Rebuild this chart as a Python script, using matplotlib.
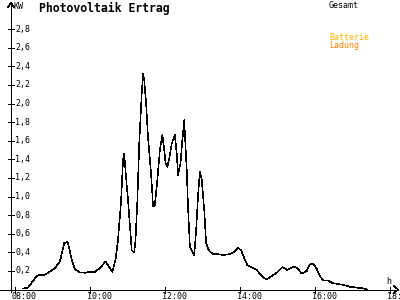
import matplotlib
matplotlib.use("Agg")
import matplotlib.pyplot as plt
from matplotlib.transforms import blended_transform_factory, offset_copy

# ---- data ----
times = ["08:11", "08:20", "08:34", "08:39", "08:44", "08:52", "09:03", "09:11", "09:18", "09:22",
         "09:24", "09:30", "09:35", "09:43", "09:51", "09:59", "10:07", "10:15", "10:24", "10:35",
         "10:40", "10:44", "10:49", "10:52", "10:54", "10:56", "11:00", "11:06", "11:10", "11:12",
         "11:15", "11:18", "11:22", "11:24", "11:26", "11:29", "11:32", "11:36", "11:39", "11:40",
         "11:43", "11:47", "11:51", "11:55", "11:58", "12:00", "12:03", "12:06", "12:10", "12:15",
         "12:18", "12:20", "12:24", "12:27", "12:30", "12:31", "12:34", "12:36", "12:39", "12:43",
         "12:46", "12:49", "12:52", "12:55", "12:58", "13:02", "13:05", "13:08", "13:11", "13:16",
         "13:24", "13:32", "13:43", "13:51", "13:56", "14:01", "14:06", "14:11", "14:18", "14:26",
         "14:31", "14:36", "14:42", "14:50", "14:58", "15:07", "15:15", "15:26", "15:32", "15:38",
         "15:46", "15:51", "15:56", "16:02", "16:07", "16:12", "16:20", "16:28", "16:36", "16:44",
         "16:55", "17:06", "17:16", "17:22"]
gesamt = [0.01, 0.02, 0.145, 0.16, 0.15, 0.18, 0.23, 0.30, 0.50, 0.51,
          0.50, 0.32, 0.22, 0.185, 0.18, 0.19, 0.19, 0.23, 0.30, 0.19,
          0.32, 0.53, 0.96, 1.39, 1.46, 1.28, 0.96, 0.42, 0.40, 0.53,
          0.96, 1.57, 2.11, 2.32, 2.25, 2.00, 1.64, 1.32, 1.03, 0.89,
          0.91, 1.18, 1.50, 1.66, 1.50, 1.36, 1.32, 1.41, 1.57, 1.66,
          1.46, 1.23, 1.36, 1.61, 1.82, 1.68, 1.28, 0.89, 0.46, 0.41,
          0.37, 0.64, 1.00, 1.27, 1.18, 0.85, 0.50, 0.44, 0.41, 0.38,
          0.38, 0.37, 0.38, 0.41, 0.45, 0.42, 0.335, 0.26, 0.24, 0.21,
          0.17, 0.13, 0.11, 0.145, 0.18, 0.24, 0.21, 0.25, 0.22, 0.17,
          0.20, 0.27, 0.28, 0.22, 0.145, 0.10, 0.095, 0.067, 0.06, 0.05,
          0.03, 0.02, 0.013, 0.0]
ladung_times = ["08:11", "17:24"]
ladung = [0.0, 0.0]
y_ticks = [0.2, 0.4, 0.6, 0.8, 1.0, 1.2, 1.4, 1.6, 1.8, 2.0, 2.2, 2.4, 2.6, 2.8]
x_ticks = [8, 10, 12, 14, 16, 18]
x_labels = ["08:00", "10:00", "12:00", "14:00", "16:00", "18:00"]
title = "Photovoltaik Ertrag"
legend_labels = ["Gesamt", "Batterie", "Ladung"]


def to_hours(s):
    h, m = s.split(":")
    return int(h) + int(m) / 60.0


hours = [to_hours(t) for t in times]
lad_hours = [to_hours(t) for t in ladung_times]

MONO = "DejaVu Sans Mono"
BLACK = "#000000"
ORANGE = "#ff8000"
GOLD = "#ffb000"

fig = plt.figure(figsize=(4, 3), dpi=100)
fig.patch.set_facecolor("white")
# data axes (scale chosen so the plot area matches the reference)
ax = fig.add_axes([0, 0, 1, 1])
ax.set_xlim(8 - 15.5 / 37.5, 8 + 384.5 / 37.5)
ax.set_ylim(-10.5 / 93.0, 289.5 / 93.0)
ax.axis("off")
# pixel overlay for decorations
px = fig.add_axes([0, 0, 1, 1])
px.set_xlim(0, 400)
px.set_ylim(300, 0)
px.axis("off")
px.patch.set_alpha(0)

lw = 0.4
# axes lines
px.plot([11, 11], [3, 292], color=BLACK, lw=lw, antialiased=False)
px.plot([8, 11, 14], [7, 3, 7], color=BLACK, lw=lw, antialiased=False)
px.plot([0, 398], [289.5, 289.5], color=BLACK, lw=lw, antialiased=False)
px.plot([394, 398, 394], [286, 289.5, 293], color=BLACK, lw=lw, antialiased=False)

# series
ax.plot(lad_hours, ladung, color=ORANGE, lw=lw, antialiased=False, zorder=3)
ax.plot(hours, gesamt, color=BLACK, lw=lw, antialiased=False, zorder=4)

# y ticks
ty = blended_transform_factory(px.transData, ax.transData)
for v in y_ticks:
    ax.plot([8, 14], [v, v], color=BLACK, lw=lw, antialiased=False, transform=ty)
    ax.text(15, v, ("%.1f" % v).replace(".", ","), transform=ty, ha="left", va="center",
            fontsize=6, family=MONO, color=BLACK)

# x ticks
tx = blended_transform_factory(ax.transData, px.transData)
for t, lab in zip(x_ticks, x_labels):
    ax.plot([t, t], [287, 293], color=BLACK, lw=lw, antialiased=False, transform=tx)
    ax.text(t, 292, lab, transform=offset_copy(tx, fig=fig, x=-3.5, y=0, units="dots"),
            ha="left", va="top", fontsize=6, family=MONO, color=BLACK)

# texts
px.text(14, 2, "KW", ha="left", va="top", fontsize=6, family=MONO, color=BLACK)
px.text(386, 281, "h", ha="left", va="center", fontsize=6, family=MONO, color=BLACK)
px.text(39, 1.5, title, ha="left", va="top", fontsize=8.3, family=MONO,
        fontweight="bold", color=BLACK)
px.text(329, 1.5, legend_labels[0], ha="left", va="top", fontsize=6, family=MONO, color=BLACK)
px.text(329, 32.5, legend_labels[1], ha="left", va="top", fontsize=6, family=MONO, color=GOLD)
px.text(329, 40.5, legend_labels[2], ha="left", va="top", fontsize=6, family=MONO, color=ORANGE)

fig.savefig("out.png", dpi=100, facecolor="white")
